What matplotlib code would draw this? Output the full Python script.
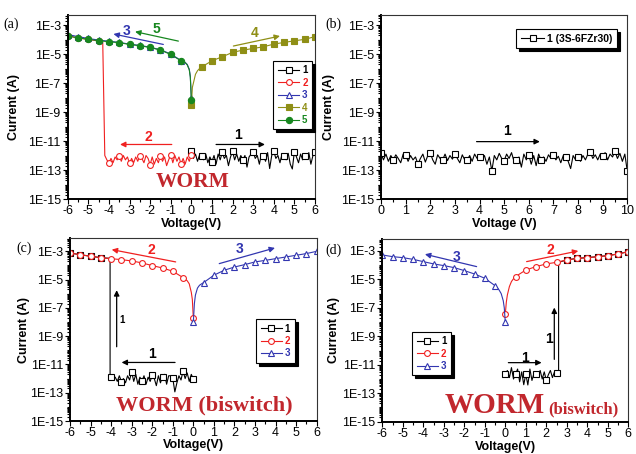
import numpy as np
import matplotlib
matplotlib.use("Agg")
import matplotlib.pyplot as plt
from matplotlib.ticker import FixedLocator, LogLocator, MultipleLocator, FuncFormatter, NullFormatter

plt.rcParams['font.family'] = ['Liberation Sans', 'DejaVu Sans']
plt.rcParams['axes.unicode_minus'] = False

# ---------------- data (log10 of current, A) ----------------
# panel (a)
a1_v = [round(0.1 * i, 1) for i in range(61)]
a1_log = [-11.66, -12.2, -11.9, -12.4, -11.95, -12.0, -12.3, -11.9, -12.5, -12.1,
          -12.42, -12.0, -12.6, -11.9, -12.3, -11.78, -12.2, -12.0, -12.7, -12.1,
          -11.71, -12.3, -11.9, -12.4, -12.0, -12.31, -12.0, -12.8, -12.1, -11.9,
          -11.73, -12.2, -12.0, -12.6, -11.9, -12.0, -12.4, -11.8, -12.9, -12.0,
          -11.71, -12.2, -12.0, -12.5, -11.9, -12.0, -12.3, -11.85, -12.6, -12.93,
          -11.73, -12.1, -12.5, -11.9, -12.3, -12.0, -12.2, -11.8, -12.6, -12.0,
          -11.73]
a2_v = [round(-0.1 * i, 1) for i in range(43)] + [-4.3, -4.5, -5.0, -5.5, -6.0]
a2_log = [-11.94, -12.4, -12.1, -12.6, -12.2, -12.58, -12.1, -12.4, -12.0, -12.5,
          -11.94, -12.3, -12.7, -12.1, -12.4, -12.0, -12.5, -12.2, -12.6, -12.1,
          -12.63, -12.2, -12.0, -12.5, -12.2, -12.0, -12.4, -12.1, -12.5, -12.2,
          -12.54, -12.1, -12.3, -12.0, -12.4, -12.0, -12.3, -12.1, -12.5, -12.2,
          -12.51, -12.3, -12.0,
          -4.18, -4.1, -3.99, -3.9, -3.74]
a_neg_v = [0, -0.05, -0.1, -0.2, -0.3, -0.4, -0.5, -1.0, -1.5, -2.0, -2.5, -3.0,
           -3.5, -4.0, -4.5, -5.0, -5.5, -6.0]
a3_log = [-8.0, -6.55, -6.05, -5.72, -5.58, -5.5, -5.45, -5.0, -4.71, -4.53, -4.41,
          -4.32, -4.2, -4.12, -4.04, -3.93, -3.8, -3.66]
a5_log = [-8.2, -6.6, -6.1, -5.75, -5.6, -5.52, -5.47, -5.03, -4.73, -4.55, -4.43,
          -4.34, -4.22, -4.15, -4.08, -3.99, -3.88, -3.76]
a_pos_v = [0, 0.05, 0.1, 0.2, 0.3, 0.4, 0.5, 1.0, 1.5, 2.0, 2.5, 3.0, 3.5, 4.0,
           4.5, 5.0, 5.5, 6.0]
a4_log = [-8.54, -7.3, -7.0, -6.4, -6.15, -6.0, -5.89, -5.47, -5.19, -4.89, -4.73,
          -4.62, -4.5, -4.32, -4.2, -4.09, -3.99, -3.8]

# panel (b)
b1_v = [round(0.1 * i, 1) for i in range(101)]
b1_log = [-11.85, -12.3, -11.9, -12.4, -12.0, -12.31, -11.95, -12.2, -12.5, -11.9,
          -11.94, -12.4, -12.0, -12.3, -12.1, -12.58, -12.2, -11.9, -12.45, -12.0,
          -11.80, -12.3, -12.6, -11.95, -12.2, -12.31, -11.9, -12.35, -12.0, -12.25,
          -11.89, -12.2, -12.5, -11.95, -12.3, -12.31, -12.0, -12.4, -11.9, -12.2,
          -12.08, -12.3, -12.0, -12.6, -12.1, -13.05, -12.0, -12.3, -11.85, -12.2,
          -12.35, -11.9, -12.2, -11.8, -12.4, -12.31, -12.1, -12.8, -11.9, -12.3,
          -11.94, -12.6, -12.0, -12.7, -11.9, -12.31, -12.1, -12.4, -11.95, -12.2,
          -11.94, -12.3, -12.05, -12.5, -12.0, -12.12, -12.4, -12.9, -12.0, -12.3,
          -12.12, -12.4, -12.0, -12.3, -11.9, -11.78, -12.2, -11.95, -12.3, -11.9,
          -12.0, -11.8, -12.3, -11.9, -12.1, -11.71, -12.2, -11.85, -12.4, -11.9,
          -13.09]

# panel (c)
c1_v = [round(-0.1 * i, 1) for i in range(41)] + [-4.05, -4.05, -4.5, -5.0, -5.5, -6.0]
c1_log = [-12.04, -11.7, -12.2, -11.6, -12.0, -11.45, -12.1, -11.8, -12.3, -12.94,
          -11.99, -11.8, -11.8, -12.4, -11.7, -11.87, -12.3, -11.8, -12.5, -12.0,
          -11.75, -12.2, -11.9, -12.4, -11.8, -12.18, -11.9, -12.4, -11.7, -12.2,
          -11.52, -12.1, -11.8, -12.3, -12.0, -12.22, -11.8, -12.2, -11.9, -12.1,
          -11.87, -11.9, -3.5, -3.45, -3.35, -3.24, -3.12]
c2_log = [-7.75, -6.4, -5.9, -5.3, -5.08, -4.95, -4.86, -4.41, -4.18, -4.01, -3.82,
          -3.68, -3.59, -3.52, -3.45, -3.35, -3.24, -3.12]
c3_log = [-7.99, -6.7, -6.1, -5.6, -5.4, -5.3, -5.21, -4.69, -4.34, -4.11, -3.94,
          -3.75, -3.64, -3.52, -3.4, -3.28, -3.16, -3.0]

# panel (d)
d1_v = [round(0.1 * i, 1) for i in range(27)] + [2.6, 3.0, 3.5, 4.0, 4.5, 5.0, 5.5, 6.0]
d1_log = [-11.67, -11.4, -11.9, -11.2, -12.0, -11.65, -11.3, -12.2, -11.5, -12.4,
          -11.65, -12.42, -11.3, -12.1, -11.6, -11.65, -11.9, -11.4, -12.0, -11.5,
          -12.09, -11.7, -11.4, -11.9, -11.5, -11.6, -11.7,
          -3.8, -3.63, -3.52, -3.47, -3.40, -3.33, -3.21, -3.05]
d2_log = [-7.43, -6.6, -6.1, -5.5, -5.15, -4.95, -4.80, -4.34, -4.10, -3.91, -3.80,
          -3.63, -3.52, -3.47, -3.40, -3.33, -3.21, -3.05]
d3_log = [-8.02, -7.0, -6.5, -6.0, -5.75, -5.57, -5.44, -4.92, -4.62, -4.38, -4.17,
          -4.03, -3.91, -3.75, -3.59, -3.47, -3.40, -3.28]

BLACK = 'black'
RED = '#f02020'
BLUE = '#3236b0'
OLIVE = '#8f8f16'
GREEN = '#17871f'
WORM_C = '#c1272d'


def curve(ax, v, logi, color, marker, label, filled=False, ms=4.2):
    v = np.asarray(v, dtype=float)
    marks = list(np.isclose(v * 2, np.round(v * 2)))
    ax.plot(v, 10.0 ** np.asarray(logi), color=color, lw=0.8, marker=marker,
            ms=ms, mfc=color if filled else 'white', mec=color, mew=0.8,
            markevery=marks, label=label)


def arrow(ax, x0, y0, x1, y1, color, lw=0.9):
    ax.annotate('', xy=(x1, 10 ** y1), xytext=(x0, 10 ** y0),
                arrowprops=dict(arrowstyle='-|>', color=color, lw=lw,
                                mutation_scale=8, shrinkA=0, shrinkB=0))


def num(ax, x, y, s, color, size=10):
    ax.text(x, 10 ** y, s, color=color, fontsize=size, fontweight='bold',
            ha='center', va='center')


def setup(ax, xlim, xstep, top, xlabel, ylab_x, xlab_y):
    ax.set_yscale('log')
    ax.set_xlim(*xlim)
    ax.set_ylim(1e-15, 10 ** top)
    ax.yaxis.set_major_locator(FixedLocator([10.0 ** e for e in range(-15, -2, 2)]))
    ax.yaxis.set_minor_locator(LogLocator(base=10.0, subs=np.arange(1, 10), numticks=100))
    ax.yaxis.set_major_formatter(FuncFormatter(lambda y, p: '1E%d' % round(np.log10(y))))
    ax.yaxis.set_minor_formatter(NullFormatter())
    ax.xaxis.set_major_locator(MultipleLocator(xstep))
    ax.xaxis.set_minor_locator(MultipleLocator(0.5))
    ax.tick_params(which='both', direction='out', top=False, right=False,
                   labelsize=9, pad=1.5, width=0.8)
    ax.tick_params(axis='x', pad=0.8)
    ax.tick_params(which='major', length=3.5)
    ax.tick_params(which='minor', length=2)
    for s in ['left', 'bottom']:
        ax.spines[s].set_linewidth(1.4)
    for s in ['top', 'right']:
        ax.spines[s].set_linewidth(0.8)
        ax.spines[s].set_color('#333333')
    ax.set_xlabel(xlabel, fontsize=9, fontweight='bold')
    ax.set_ylabel('Current (A)', fontsize=9, fontweight='bold')
    ax.yaxis.set_label_coords(ylab_x, 0.5)
    ax.xaxis.set_label_coords(0.5, xlab_y)


def legend(ax, loc, anchor, size=7, **kw):
    leg = ax.legend(loc=loc, bbox_to_anchor=anchor, borderaxespad=0, fontsize=size,
                    frameon=True, fancybox=False, shadow={'color': 'black', 'alpha': 1},
                    numpoints=1, handlelength=2.2, handletextpad=0.3,
                    labelspacing=0.25, borderpad=0.45, **kw)
    leg.get_frame().set_edgecolor('black')
    leg.get_frame().set_linewidth(0.8)
    for txt, h in zip(leg.get_texts(), leg.legend_handles):
        txt.set_color(h.get_color())
        txt.set_fontweight('bold')
    return leg


fig = plt.figure(figsize=(6.36, 4.54), dpi=100)
W, H = 636.0, 454.0


def rect(x0, x1, y0, y1):
    return [x0 / W, 1 - y1 / H, (x1 - x0) / W, (y1 - y0) / H]


ax_a = fig.add_axes(rect(67.7, 315.0, 15.0, 199.0))
ax_b = fig.add_axes(rect(381.0, 627.3, 15.0, 199.0))
ax_c = fig.add_axes(rect(70.0, 316.7, 238.3, 421.0))
ax_d = fig.add_axes(rect(382.3, 628.3, 239.0, 421.7))

# ---- (a)
curve(ax_a, a1_v, a1_log, BLACK, 's', '1', ms=4)
curve(ax_a, a2_v, a2_log, RED, 'o', '2')
curve(ax_a, a_neg_v, a3_log, BLUE, '^', '3')
curve(ax_a, a_pos_v, a4_log, OLIVE, 's', '4', filled=True, ms=4)
curve(ax_a, a_neg_v, a5_log, GREEN, 'o', '5', filled=True, ms=4.5)
setup(ax_a, (-6, 6), 1, -2.31, 'Voltage(V)', -0.193, -0.105)
legend(ax_a, 'upper right', (0.988, 0.75))
arrow(ax_a, -1.36, -4.34, -3.78, -3.62, BLUE)
num(ax_a, -3.14, -3.39, '3', BLUE)
arrow(ax_a, -0.63, -4.11, -2.73, -3.46, GREEN)
num(ax_a, -1.68, -3.3, '5', GREEN)
arrow(ax_a, 2.04, -4.45, 4.30, -3.76, OLIVE)
num(ax_a, 3.09, -3.58, '4', OLIVE)
arrow(ax_a, -0.95, -11.24, -3.46, -11.24, RED)
num(ax_a, -2.09, -10.69, '2', RED)
arrow(ax_a, 1.2, -11.24, 3.57, -11.24, BLACK)
num(ax_a, 2.28, -10.62, '1', BLACK)
ax_a.text(-1.71, 10 ** -14.19, 'WORM', color=WORM_C, fontsize=15.5,
          fontweight='bold', family='Liberation Serif', ha='left', va='baseline')

# ---- (b)
curve(ax_b, b1_v, b1_log, BLACK, 's', '1 (3S-6FZr30)', ms=4)
setup(ax_b, (0, 10), 1, -2.3, 'Voltage (V)', -0.187, -0.105)
legend(ax_b, 'upper right', (0.959, 0.924), size=7.5)
arrow(ax_b, 3.88, -11.04, 6.45, -11.04, BLACK)
num(ax_b, 5.1, -10.32, '1', BLACK)

# ---- (c)
curve(ax_c, c1_v, c1_log, BLACK, 's', '1', ms=4)
curve(ax_c, a_neg_v, c2_log, RED, 'o', '2')
curve(ax_c, a_pos_v, c3_log, BLUE, '^', '3')
setup(ax_c, (-6, 6), 1, -2.08, 'Voltage(V)', -0.162, -0.098)
legend(ax_c, 'upper right', (0.911, 0.557))
arrow(ax_c, -0.86, -3.75, -3.97, -2.88, RED)
num(ax_c, -2.06, -2.88, '2', RED)
arrow(ax_c, 1.26, -3.87, 3.97, -2.76, BLUE)
num(ax_c, 2.27, -2.86, '3', BLUE)
arrow(ax_c, -3.73, -9.75, -3.73, -5.75, BLACK)
num(ax_c, -3.45, -7.87, '1', BLACK, size=7)
arrow(ax_c, -0.89, -10.86, -3.49, -10.86, BLACK)
num(ax_c, -2.03, -10.29, '1', BLACK)
ax_c.text(-3.77, 10 ** -14.29, 'WORM (biswitch)', color=WORM_C, fontsize=16,
          fontweight='bold', family='Liberation Serif', ha='left', va='baseline')

# ---- (d)
curve(ax_d, d1_v, d1_log, BLACK, 's', '1', ms=4)
curve(ax_d, a_pos_v, d2_log, RED, 'o', '2')
curve(ax_d, a_neg_v, d3_log, BLUE, '^', '3')
setup(ax_d, (-6, 6), 1, -2.16, 'Voltage(V)', -0.171, -0.104)
legend(ax_d, 'upper left', (0.122, 0.492))
arrow(ax_d, -1.4, -4.1, -3.92, -3.23, BLUE)
num(ax_d, -2.37, -3.4, '3', BLUE)
arrow(ax_d, 1.04, -3.75, 3.56, -3.0, RED)
num(ax_d, 2.18, -2.93, '2', RED)
arrow(ax_d, 2.39, -10.62, 2.39, -6.98, BLACK)
num(ax_d, 2.12, -9.2, '1', BLACK)
arrow(ax_d, 0.15, -10.85, 1.77, -10.85, BLACK)
num(ax_d, 0.96, -10.5, '1', BLACK)
ax_d.text(1.94, 10 ** -14.39, 'WORM', color=WORM_C, fontsize=21,
          fontweight='bold', family='Liberation Serif', ha='right', va='baseline')
ax_d.text(2.09, 10 ** -14.39, '(biswitch)', color=WORM_C, fontsize=12,
          fontweight='bold', family='Liberation Serif', ha='left', va='baseline')

# panel letters
for s, x, y in [('(a)', 3, 24), ('(b)', 325, 24), ('(c)', 16, 248), ('(d)', 325, 250)]:
    fig.text(x / W, 1 - y / H, s, fontsize=10, family='Liberation Serif',
             ha='left', va='center')

fig.savefig('out.png', dpi=100)
